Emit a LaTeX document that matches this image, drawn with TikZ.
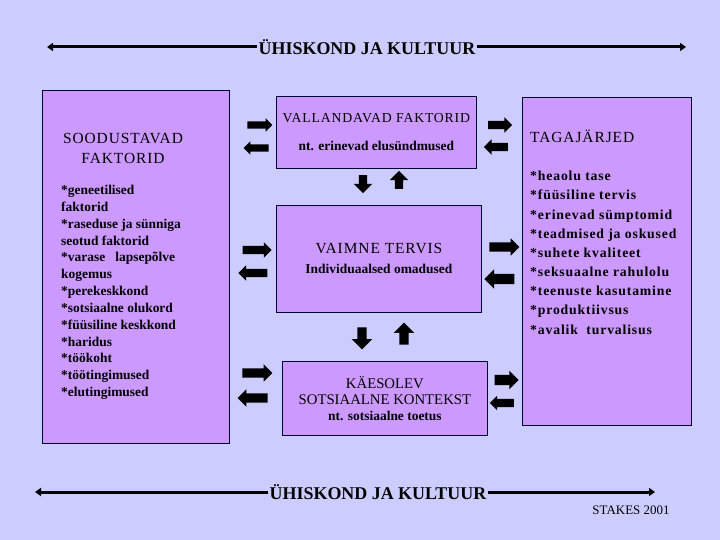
\documentclass[tikz,border=0pt]{standalone}
\usepackage{fontspec}
\setmainfont{Liberation Serif}
\newfontfamily\wide[LetterSpace=6]{Liberation Serif}
\usetikzlibrary{shapes.arrows,arrows.meta}
\definecolor{bglav}{HTML}{CCCCFF}
\definecolor{boxlilac}{HTML}{CC99FF}
\definecolor{edgeblue}{HTML}{000033}
\tikzset{
  box/.style={draw=edgeblue, fill=boxlilac, line width=0.8bp, inner sep=0pt},
  barr/.style={single arrow, fill=black, draw=none, inner xsep=0pt, inner ysep=3.5bp,
    minimum height=25bp, single arrow head extend=3bp, single arrow head indent=0pt},
  longline/.style={line width=3bp, draw=black},
  headline/.style={inner sep=1.5bp, font=\fontsize{18}{20}\selectfont\bfseries},
}
\begin{document}
\begin{tikzpicture}[x=1bp, y=-1bp]
\useasboundingbox (0,0) rectangle (720,540);
\fill[bglav] (0,0) rectangle (720,540);

% society and culture lines
\coordinate (tl) at (47,47);
\coordinate (tr) at (686,47);
\node[headline] (top) at (367,47) {ÜHISKOND JA KULTUUR};
\draw[longline,-{Triangle[length=6bp,width=8bp]}] (top.west) -- (tl);
\draw[longline,-{Triangle[length=6bp,width=8bp]}] (top.east) -- (tr);
\coordinate (bl) at (35,492);
\coordinate (br) at (655,492);
\node[headline] (bot) at (378,492) {ÜHISKOND JA KULTUUR};
\draw[longline,-{Triangle[length=6bp,width=8bp]}] (bot.west) -- (bl);
\draw[longline,-{Triangle[length=6bp,width=8bp]}] (bot.east) -- (br);

% left box
\node[box, anchor=north west, minimum width=187bp, minimum height=353bp] (sood) at (42,90) {};
\node[anchor=north, inner sep=0pt, align=center, font=\fontsize{15.5}{20}\wide] (soodt) at (123,133) {SOODUSTAVAD\\FAKTORID};
\node[anchor=north west, inner sep=0pt, align=left, font=\fontsize{13.5}{16.9}\selectfont\bfseries] (soodl) at (61,185)
  {*geneetilised\\faktorid\\*raseduse ja sünniga\\seotud faktorid\\*varase\ \ \ lapsepõlve\\kogemus\\*perekeskkond\\*sotsiaalne olukord\\*füüsiline keskkond\\*haridus\\*töökoht\\*töötingimused\\*elutingimused};

% center boxes
\node[box, anchor=north west, minimum width=200bp, minimum height=72bp, align=center,
  font=\fontsize{13.8}{16}\wide] (vall) at (276,96)
  {VALLANDAVAD FAKTORID\\[12bp]{\rmfamily\fontsize{13.5}{15}\selectfont\bfseries nt. erinevad elusündmused}};
\node[box, anchor=north west, minimum width=205bp, minimum height=107bp, align=center,
  font=\fontsize{15.5}{16}\wide] (vaim) at (276,205)
  {VAIMNE TERVIS\\[4bp]{\rmfamily\fontsize{13.5}{15}\selectfont\bfseries Individuaalsed omadused}};
\node[box, anchor=north west, minimum width=205bp, minimum height=74bp, align=center,
  font=\fontsize{14.8}{16}\selectfont] (kaes) at (282,361)
  {KÄESOLEV\\SOTSIAALNE KONTEKST\\{\fontsize{13.5}{15}\selectfont\bfseries nt. sotsiaalne toetus}};

% right box
\node[box, anchor=north west, minimum width=169bp, minimum height=328bp] (taga) at (522,97) {};
\node[anchor=north west, inner sep=0pt, font=\fontsize{15.5}{16}\wide] (tagat) at (530,130) {TAGAJÄRJED};
\node[anchor=north west, inner sep=0pt, align=left, font=\fontsize{13.8}{19.25}\wide\bfseries] (tagal) at (530,171)
  {*heaolu tase\\*füüsiline tervis\\*erinevad sümptomid\\*teadmised ja oskused\\*suhete kvaliteet\\*seksuaalne rahulolu\\*teenuste kasutamine\\*produktiivsus\\*avalik\ \ turvalisus};

% block arrows
\node[barr] (a1r) at (258,125) {};
\node[barr, rotate=180] (a1l) at (258,148) {};
\node[barr, minimum height=24bp, inner ysep=4bp, single arrow head extend=3.5bp] (a2r) at (498,125) {};
\node[barr, minimum height=24bp, inner ysep=4bp, single arrow head extend=3.5bp, rotate=180] (a2l) at (498,147) {};
\node[barr, minimum height=18bp, inner ysep=4bp, single arrow head extend=5bp, rotate=270] (a3d) at (363,182) {};
\node[barr, minimum height=18bp, inner ysep=4bp, single arrow head extend=5bp, rotate=90] (a3u) at (399,182) {};
\node[barr, minimum height=29bp, inner ysep=4bp, single arrow head extend=3.5bp] (a4r) at (255,250) {};
\node[barr, minimum height=29bp, inner ysep=4bp, single arrow head extend=3.5bp, rotate=180] (a4l) at (255,273) {};
\node[barr, minimum height=30bp, inner ysep=4.5bp, single arrow head extend=4bp] (a5r) at (502,247) {};
\node[barr, minimum height=30bp, inner ysep=5bp, single arrow head extend=4.5bp, rotate=180] (a5l) at (502,279) {};
\node[barr, minimum height=22bp, inner ysep=4.5bp, single arrow head extend=5.5bp, rotate=270] (a6d) at (362,336) {};
\node[barr, minimum height=22bp, inner ysep=4.5bp, single arrow head extend=5.5bp, rotate=90] (a6u) at (404,336) {};
\node[barr, minimum height=30bp, inner ysep=4.5bp, single arrow head extend=4bp] (a7r) at (255,373) {};
\node[barr, minimum height=30bp, inner ysep=4.5bp, single arrow head extend=4bp, rotate=180] (a7l) at (255,398) {};
\node[barr, minimum height=24bp, inner ysep=5bp, single arrow head extend=4bp] (a8r) at (504,380) {};
\node[barr, minimum height=24bp, inner ysep=4bp, single arrow head extend=3bp, rotate=180] (a8l) at (504,403) {};

\node[anchor=base, inner sep=0pt, font=\fontsize{13}{15}\selectfont] (stakes) at (631,514) {STAKES 2001};
\end{tikzpicture}
\end{document}
